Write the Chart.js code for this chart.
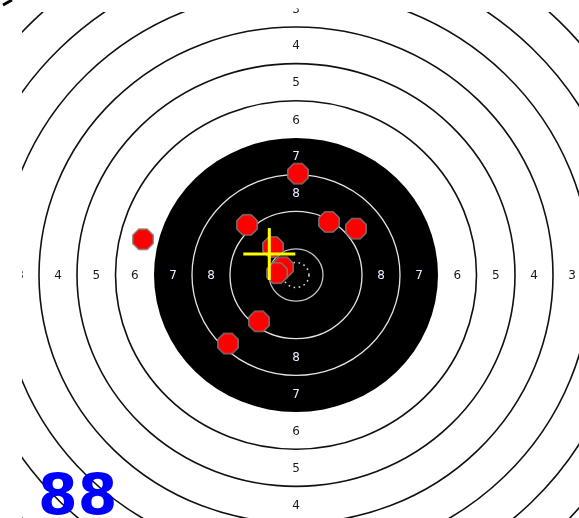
<!DOCTYPE html>
<html>
<head>
<meta charset="utf-8">
<script src="https://cdn.jsdelivr.net/npm/chart.js@4.4.1/dist/chart.umd.min.js"></script>
<style>
  html, body { margin: 0; padding: 0; background: #fff; }
  #wrap { width: 579px; height: 518px; }
</style>
</head>
<body>
<div id="wrap"><canvas id="target" width="579" height="518"></canvas></div>
<script>
// shot holes in target units (1 unit ~ 1px across the face)
const shotX = [2, -49, 33, 60, -153, -23, -13, -19, -37, -68];
const shotY = [105, 52, 55, 48, 37, 29, 8, 2, -48, -71];

// ring radii, scores 1..10
const ringScores = [1, 2, 3, 4, 5, 6, 7, 8, 9, 10];
const ringRadii = [372, 333, 295, 257, 219, 180.5, 142, 104, 66, 27];
const xRingRadius = 13;

// numbers printed on the face
const labelsRight = [3, 4, 5, 6, 7, 8];
const labelsTop = [3, 4, 5, 6, 7, 8];
const labelsLeft = [3, 4, 5, 6, 7, 8];
const labelsBottom = [4, 5, 6, 7, 8];

const totalScore = "88";

const yStretch = 0.965; // printed face is a touch flatter than wide
const armLen = 26;

document.addEventListener("DOMContentLoaded", () => {
  const canvas = document.getElementById("target");

  function octagon(r) {
    const c = document.createElement("canvas");
    const s = Math.ceil(r * 2 + 2);
    c.width = c.height = s;
    const g = c.getContext("2d");
    g.beginPath();
    for (let i = 0; i < 8; i++) {
      const a = Math.PI / 8 + i * Math.PI / 4;
      g.lineTo(s / 2 + r * Math.cos(a), s / 2 + r * Math.sin(a));
    }
    g.closePath();
    g.fillStyle = "#ff0000";
    g.fill();
    g.strokeStyle = "#7c7c7c";
    g.lineWidth = 1.3;
    g.stroke();
    return c;
  }

  // group centre
  const mx = shotX.reduce((a, b) => a + b, 0) / shotX.length;
  const my = shotY.reduce((a, b) => a + b, 0) / shotY.length;

  function ringRadius(score) {
    return ringRadii[ringScores.indexOf(score)];
  }
  function labelRadius(score) {
    return (ringRadius(score) + ringRadius(score + 1)) / 2;
  }

  const targetFace = {
    id: "targetFace",
    beforeDatasetsDraw(chart) {
      const { ctx, scales: { x, y } } = chart;
      const cx = x.getPixelForValue(0), cy = y.getPixelForValue(0);
      const sx = x.getPixelForValue(1) - cx;
      const sy = cy - y.getPixelForValue(1);

      ctx.save();
      ctx.fillStyle = "#fff";
      ctx.fillRect(0, 0, chart.width, chart.height);

      ctx.save();
      ctx.beginPath();
      ctx.rect(22, 12, chart.width - 22, chart.height - 12);
      ctx.clip();

      ringScores.forEach((k, i) => {
        const r = ringRadii[i];
        ctx.beginPath();
        ctx.ellipse(cx, cy, r * sx, r * sy, 0, 0, Math.PI * 2);
        if (k < 7) {
          ctx.strokeStyle = "#111";
          ctx.lineWidth = 1.6;
          ctx.stroke();
        } else if (k === 7) {
          ctx.fillStyle = "#000";
          ctx.fill();
        } else {
          ctx.strokeStyle = k === 10 ? "#c4c4c4" : "#e4e4e4";
          ctx.lineWidth = 1.3;
          ctx.stroke();
        }
      });

      // dotted inner ten
      ctx.beginPath();
      ctx.ellipse(cx, cy, xRingRadius * sx, xRingRadius * sy, 0, 0, Math.PI * 2);
      ctx.setLineDash([1.6, 3.6]);
      ctx.strokeStyle = "#d8d8d8";
      ctx.lineWidth = 1.6;
      ctx.stroke();
      ctx.setLineDash([]);
      ctx.restore();

      // ring numbers
      ctx.save();
      ctx.beginPath();
      ctx.rect(22, 8, chart.width - 22, chart.height - 8);
      ctx.clip();
      ctx.font = "12px 'DejaVu Sans'";
      ctx.textAlign = "center";
      ctx.textBaseline = "middle";
      const colourFor = k => (k >= 7 ? "#e6eeff" : "#1a1a1a");
      labelsRight.forEach(k => {
        ctx.fillStyle = colourFor(k);
        ctx.fillText(String(k), cx + labelRadius(k) * sx, cy + 1);
      });
      labelsLeft.forEach(k => {
        ctx.fillStyle = colourFor(k);
        ctx.fillText(String(k), cx - labelRadius(k) * sx, cy + 1);
      });
      labelsTop.forEach(k => {
        ctx.fillStyle = colourFor(k);
        ctx.fillText(String(k), cx, cy - labelRadius(k) * sy + 1);
      });
      labelsBottom.forEach(k => {
        ctx.fillStyle = colourFor(k);
        ctx.fillText(String(k), cx, cy + labelRadius(k) * sy + 1);
      });
      ctx.restore();

      // stray mark in the corner
      ctx.beginPath();
      ctx.moveTo(3, 5);
      ctx.lineTo(12, 0);
      ctx.strokeStyle = "#000";
      ctx.lineWidth = 3;
      ctx.stroke();
      ctx.restore();
    },
    afterDraw(chart) {
      const { ctx } = chart;
      ctx.save();
      ctx.font = "bold 57px 'DejaVu Sans'";
      ctx.fillStyle = "#0000ff";
      ctx.textAlign = "left";
      ctx.textBaseline = "alphabetic";
      ctx.fillText(totalScore, 38, 515);
      ctx.restore();
    }
  };

  new Chart(canvas, {
    type: "scatter",
    data: {
      datasets: [
        {
          label: "aim h",
          data: [{ x: mx - armLen, y: my }, { x: mx + armLen, y: my }],
          showLine: true,
          borderColor: "#ffff00",
          borderWidth: 3,
          pointRadius: 0,
          order: 0
        },
        {
          label: "aim v",
          data: [{ x: mx, y: my - armLen / yStretch }, { x: mx, y: my + armLen / yStretch }],
          showLine: true,
          borderColor: "#ffff00",
          borderWidth: 3,
          pointRadius: 0,
          order: 0
        },
        {
          label: "shots",
          data: shotX.map((v, i) => ({ x: v, y: shotY[i] })),
          pointStyle: octagon(11),
          pointRadius: 11,
          order: 1
        }
      ]
    },
    options: {
      responsive: false,
      animation: false,
      devicePixelRatio: 1,
      events: [],
      layout: { padding: 0, autoPadding: false },
      plugins: { legend: { display: false }, tooltip: { enabled: false } },
      scales: {
        x: { type: "linear", min: -296, max: 283, display: false },
        y: { type: "linear", min: -243 / yStretch, max: 275 / yStretch, display: false }
      }
    },
    plugins: [targetFace]
  });
});
</script>
</body>
</html>
